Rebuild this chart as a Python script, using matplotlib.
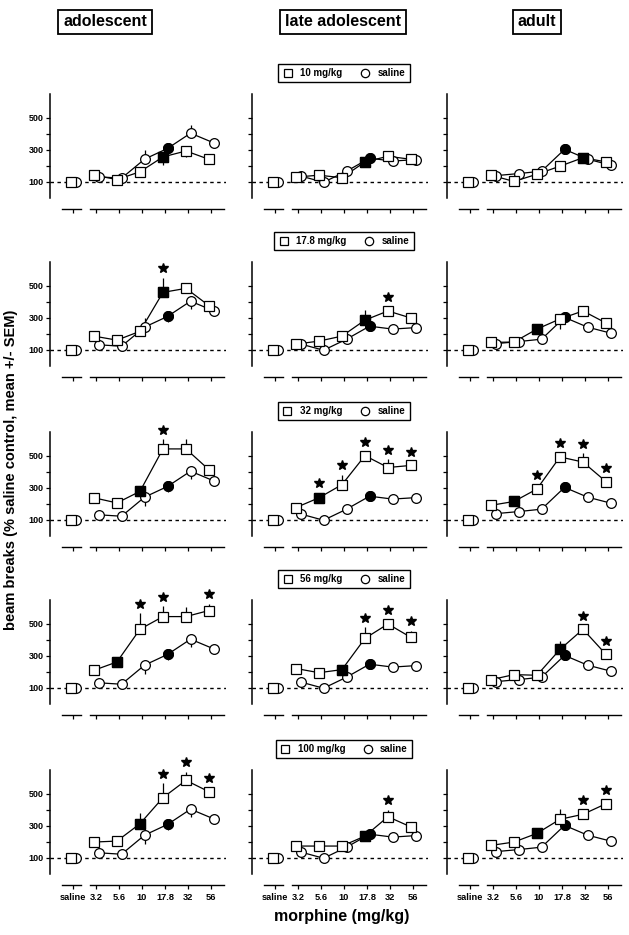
import numpy as np
import matplotlib
matplotlib.use("Agg")
import matplotlib.pyplot as plt
from matplotlib.lines import Line2D

plt.rcParams['font.family'] = ['Liberation Sans', 'DejaVu Sans']
plt.rcParams['font.weight'] = 'bold'

# Données
ages = ["adolescent", "late adolescent", "adult"]
pretreat = ["10 mg/kg", "17.8 mg/kg", "32 mg/kg", "56 mg/kg", "100 mg/kg"]
x_labels = ["saline", "3.2", "5.6", "10", "17.8", "32", "56"]

# courbe saline (cercles), identique pour chaque ligne d'une colonne
sal_adolescent = [131, 122, 241, 308, 403, 343]
sal_late = [136, 97, 166, 247, 229, 238]
sal_adult = [138, 151, 166, 302, 241, 204]
sal_err_adolescent = [10, 10, 55, 35, 50, 10]
sal_err_late = [10, 10, 10, 15, 10, 10]
sal_err_adult = [10, 10, 10, 15, 10, 10]
sal_filled = 3  # 17.8 plein

# courbes prétraitement (carrés), une liste par ligne : [adolescent, late, adult]
sq_10 = [[141, 114, 162, 255, 292, 240], [129, 141, 125, 224, 259, 240], [141, 102, 147, 197, 250, 224]]
sq_17 = [[185, 160, 215, 458, 483, 375], [135, 154, 185, 285, 342, 298], [146, 148, 229, 292, 342, 267]]
sq_32 = [[237, 205, 277, 542, 542, 412], [176, 237, 319, 500, 426, 439], [190, 214, 292, 492, 460, 338]]
sq_56 = [[209, 261, 465, 544, 544, 582], [220, 194, 213, 408, 498, 414], [150, 182, 178, 339, 465, 308]]
sq_100 = [[198, 204, 312, 475, 583, 512], [173, 173, 173, 235, 356, 292], [177, 198, 252, 340, 371, 437]]

err_10 = [[10, 10, 10, 50, 35, 10], [10, 10, 10, 20, 20, 10], [10, 10, 10, 15, 15, 10]]
err_17 = [[10, 10, 10, 90, 25, 10], [10, 10, 10, 60, 20, 10], [10, 10, 10, 60, 30, 10]]
err_32 = [[10, 10, 10, 60, 60, 10], [10, 30, 60, 28, 50, 25], [10, 10, 25, 30, 55, 10]]
err_56 = [[10, 10, 100, 65, 60, 40], [10, 10, 10, 70, 25, 40], [10, 10, 10, 55, 15, 10]]
err_100 = [[10, 10, 70, 90, 52, 25], [10, 10, 10, 10, 45, 10], [10, 10, 10, 65, 30, 27]]

# index de la dose au carré plein
filled_sq = [[3, 3, 4], [3, 3, 2], [2, 1, 1], [1, 2, 3], [2, 3, 2]]
# étoiles (index des doses)
stars = [[[], [], []],
         [[3], [4], []],
         [[3], [1, 2, 3, 4, 5], [2, 3, 4, 5]],
         [[2, 3, 5], [3, 4, 5], [4, 5]],
         [[3, 4, 5], [4], [4, 5]]]

squares = [sq_10, sq_17, sq_32, sq_56, sq_100]
sq_errs = [err_10, err_17, err_32, err_56, err_100]
saline_cols = [sal_adolescent, sal_late, sal_adult]
saline_errs = [sal_err_adolescent, sal_err_late, sal_err_adult]

W, H = 629, 935
fig = plt.figure(figsize=(6.29, 9.35), dpi=100)

col_left = [50, 252, 447]
row_base = [209, 377, 547, 715, 885]
ax_w, ax_h = 176, 117

x = np.arange(1, 7)
off_s, off_c = -0.09, 0.11

for r in range(5):
    for c in range(3):
        ax = fig.add_axes([col_left[c] / W, 1 - row_base[r] / H, ax_w / W, ax_h / H])
        ax.set_xlim(-1, 6.65)
        ax.set_ylim(-70, 660)
        for s in ['top', 'right']:
            ax.spines[s].set_visible(False)
        ax.spines['left'].set_bounds(0, 650)
        ax.spines['bottom'].set_bounds(0.74, 6.57)
        ax.spines['left'].set_linewidth(1.1)
        ax.spines['bottom'].set_linewidth(1.0)
        ax.plot([-0.48, 0.35], [-70, -70], color='black', lw=1.0, clip_on=False)

        ax.set_yticks([100, 200, 300, 400, 500])
        ax.tick_params(axis='y', length=3, width=0.9, pad=1.5, labelsize=6.5)
        ax.set_xticks(range(7))
        ax.tick_params(axis='x', length=3, width=0.9, pad=3, labelsize=6.7)
        if c == 0:
            ax.set_yticklabels(['100', '', '300', '', '500'])
        else:
            ax.set_yticklabels([])
        if r == 4:
            ax.set_xticklabels(x_labels)
        else:
            ax.set_xticklabels([])

        ax.axhline(100, color='black', lw=1.0, ls=(0, (2.5, 2.5)), zorder=1)

        sq = np.array(squares[r][c])
        sqe = np.array(sq_errs[r][c])
        sal = np.array(saline_cols[c])
        sale = np.array(saline_errs[c])

        # barres d'erreur : vers le haut pour la courbe du dessus
        sign_sq = np.where(sq >= sal, 1, -1)
        ax.vlines(x + off_s, sq, sq + sign_sq * sqe, color='black', lw=0.9, zorder=1.5)
        ax.vlines(x + off_c, sal, sal - sign_sq * sale, color='black', lw=0.9, zorder=1.5)

        ax.plot(x + off_c, sal, color='black', lw=0.9, zorder=2)
        ax.plot(x + off_s, sq, color='black', lw=0.9, zorder=2.5)

        # cercles
        ax.plot(x + off_c, sal, ls='none', marker='o', ms=7, mfc='white', mec='black', mew=0.9, zorder=3)
        ax.plot(x[sal_filled] + off_c, sal[sal_filled], ls='none', marker='o', ms=7,
                mfc='black', mec='black', mew=0.9, zorder=3)
        ax.plot(0 + off_c, 100, ls='none', marker='o', ms=7, mfc='white', mec='black', mew=0.9, zorder=3)
        # carrés
        ax.plot(x + off_s, sq, ls='none', marker='s', ms=6.5, mfc='white', mec='black', mew=0.9, zorder=4)
        k = filled_sq[r][c]
        ax.plot(x[k] + off_s, sq[k], ls='none', marker='s', ms=6.5, mfc='black', mec='black', mew=0.9, zorder=4)
        ax.plot(0 + off_s, 100, ls='none', marker='s', ms=6.5, mfc='white', mec='black', mew=0.9, zorder=4)

        # étoiles
        for i in stars[r][c]:
            ax.plot(x[i] + off_s, sq[i] + max(sqe[i], 25) + 60, ls='none', marker='*', ms=7.5,
                    color='black', clip_on=False, zorder=5)

        if c == 1:
            handles = [Line2D([], [], ls='none', marker='s', ms=6, mfc='white', mec='black', mew=0.9),
                       Line2D([], [], ls='none', marker='o', ms=6, mfc='white', mec='black', mew=0.9)]
            top_px = row_base[r] - ax_h
            ax.legend(handles, [pretreat[r], 'saline'], ncol=2, loc='center',
                      bbox_to_anchor=(344 / W, 1 - (top_px - 19) / H), bbox_transform=fig.transFigure,
                      frameon=True, fancybox=False, edgecolor='black', framealpha=1,
                      prop={'size': 7, 'weight': 'bold'}, handletextpad=0.8, columnspacing=1.8,
                      borderpad=0.45, handlelength=1.0)
            ax.get_legend().get_frame().set_linewidth(1.0)

# titres de colonnes
title_x = [105, 343, 537]
for t, xp in zip(ages, title_x):
    fig.text(xp / W, 1 - 22 / H, t, ha='center', va='center', fontsize=11.5, fontweight='bold',
             bbox=dict(boxstyle='square,pad=0.3', fc='white', ec='black', lw=1.3))

fig.text(11 / W, 1 - 470 / H, "beam breaks (% saline control, mean +/- SEM)", rotation=90,
         ha='center', va='center', fontsize=10.5, fontweight='bold')
fig.text(342 / W, 1 - 917 / H, "morphine (mg/kg)", ha='center', va='center', fontsize=11.5, fontweight='bold')

fig.savefig("out.png", dpi=100)
